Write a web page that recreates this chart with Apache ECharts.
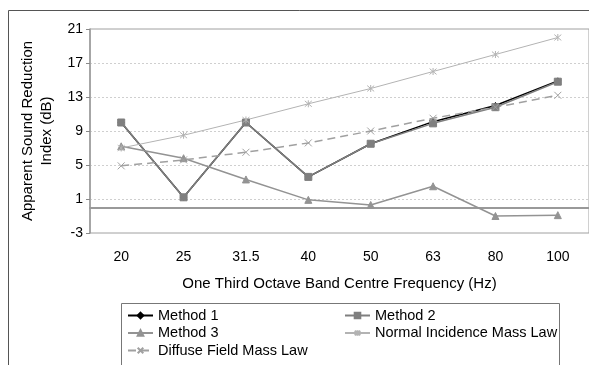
<!DOCTYPE html>
<html>
<head>
<meta charset="utf-8">
<script src="https://cdn.jsdelivr.net/npm/echarts@6/dist/echarts.min.js"></script>
<style>
	html, body { margin: 0; padding: 0; background: #fff; }
	#chart { width: 589px; height: 365px; }
</style>
</head>
<body>
<div id="chart"></div>
<script>
// 주파수 (Hz)
var frequency = ['20', '25', '31.5', '40', '50', '63', '80', '100'];

// 측정값 (dB)
var method1 = [10, 1.2, 10, 3.6, 7.5, 10.1, 12.0, 14.9];
var method2 = [10, 1.2, 10, 3.6, 7.5, 9.9, 11.8, 14.8];
var method3 = [7.2, 5.8, 3.3, 0.9, 0.3, 2.5, -1.0, -0.9];
var normalMassLaw = [7.0, 8.5, 10.3, 12.2, 14.0, 16.0, 18.0, 20.0];
var diffuseMassLaw = [4.9, 5.6, 6.5, 7.6, 9.0, 10.5, 11.8, 13.2];

// 눈금
var yTicks = [-3, 1, 5, 9, 13, 17, 21];

var FONT = 'Liberation Sans, Arial, sans-serif';
var STAR = 'path://M0,0L10,10M10,0L0,10M5,-1L5,11';
var CROSS = 'path://M0,0L10,10M10,0L0,10';

function lineSeries(name, data, color, width, symbol, size, dashed) {
	return {
		name: name,
		type: 'line',
		xAxisIndex: 0,
		data: data,
		symbol: symbol,
		symbolSize: size,
		showSymbol: true,
		lineStyle: { color: color, width: width, type: dashed ? [8, 5] : 'solid' },
		itemStyle: { color: color, borderColor: color, borderWidth: 1 },
		emphasis: { disabled: true },
		z: 3
	};
}

function legendColumn(left, names) {
	return {
		orient: 'vertical',
		left: left,
		top: 308,
		padding: 0,
		itemWidth: 25,
		itemHeight: 7,
		itemGap: 2.5,
		textStyle: { color: '#000', fontSize: 14.5, fontFamily: FONT },
		data: names
	};
}

var chart = echarts.init(document.getElementById('chart'));

var option = {
	animation: false,
	textStyle: { fontFamily: FONT },
	grid: { left: 90, top: 29, width: 502, height: 204, show: true, borderColor: '#a0a0a0', borderWidth: 1 },
	xAxis: [
		{
			type: 'category',
			data: frequency,
			boundaryGap: true,
			axisLine: { onZero: true, lineStyle: { color: '#999', width: 2 } },
			axisTick: { inside: false, length: 5, lineStyle: { color: '#888' } },
			axisLabel: { show: false },
			splitLine: { show: false }
		},
		{
			type: 'category',
			data: frequency,
			position: 'bottom',
			axisLine: { show: false, onZero: false },
			axisTick: { show: false },
			axisLabel: { color: '#000', fontSize: 14, margin: 17, fontFamily: FONT },
			name: 'One Third Octave Band Centre Frequency (Hz)',
			nameLocation: 'middle',
			nameGap: 43,
			nameTextStyle: { color: '#000', fontSize: 15, fontFamily: FONT }
		}
	],
	yAxis: {
		type: 'value',
		min: -3,
		max: 21,
		axisLine: { show: true, lineStyle: { color: '#999', width: 1.5 } },
		axisTick: { show: true, length: 4, customValues: yTicks, lineStyle: { color: '#888' } },
		axisLabel: { color: '#000', fontSize: 14, margin: 7, customValues: yTicks, fontFamily: FONT },
		splitLine: { show: true, lineStyle: { color: '#cfcfcf', type: [2, 2], width: 1 } },
		name: 'Apparent Sound Reduction\nIndex (dB)',
		nameLocation: 'middle',
		nameGap: 30,
		nameTextStyle: { color: '#000', fontSize: 15, lineHeight: 19, fontFamily: FONT }
	},
	legend: [
		legendColumn(127, ['Method 1', 'Method 3', 'Diffuse Field Mass Law']),
		legendColumn(344, ['Method 2', 'Normal Incidence Mass Law'])
	],
	graphic: [
		{ type: 'rect', shape: { x: 8.5, y: 10.5, width: 700, height: 500 }, style: { fill: 'none', stroke: '#555', lineWidth: 1 }, silent: true },
		{ type: 'rect', shape: { x: 121.5, y: 303.5, width: 438, height: 100 }, style: { fill: 'none', stroke: '#777', lineWidth: 1 }, silent: true }
	],
	series: [
		lineSeries('Method 1', method1, '#000', 1.5, 'diamond', 6, false),
		lineSeries('Method 2', method2, '#7f7f7f', 1.5, 'rect', 7, false),
		lineSeries('Method 3', method3, '#939393', 1.5, 'triangle', 7, false),
		lineSeries('Normal Incidence Mass Law', normalMassLaw, '#b3b3b3', 1, STAR, 7, false),
		lineSeries('Diffuse Field Mass Law', diffuseMassLaw, '#a0a0a0', 1.5, CROSS, 7, true)
	]
};

chart.setOption(option);
</script>
</body>
</html>
